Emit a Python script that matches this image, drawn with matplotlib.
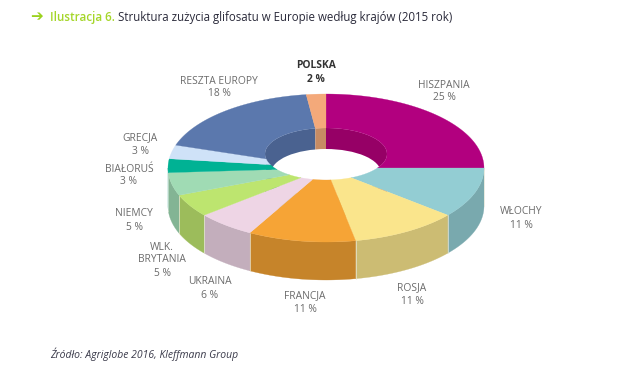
import numpy as np
import matplotlib
matplotlib.use('Agg')
import matplotlib.pyplot as plt
from matplotlib.patches import Polygon, Ellipse

plt.rcParams['font.family'] = ['Open Sans', 'DejaVu Sans']

# dane z ilustracji
countries = ['HISZPANIA', 'WŁOCHY', 'ROSJA', 'FRANCJA', 'UKRAINA', 'WLK.\nBRYTANIA',
             'NIEMCY', 'BIAŁORUŚ', 'GRECJA', 'RESZTA EUROPY', 'POLSKA']
shares = [25, 11, 11, 11, 6, 5, 5, 3, 3, 18, 2]
top_colors = ['#B2007F', '#93CDD3', '#FAE58C', '#F6A436', '#EED5E5', '#BDE56F',
              '#A0DBB4', '#00B294', '#CFE2F8', '#5B78AD', '#F4A97A']
side_colors = ['#960066', '#79A9AE', '#CCBC73', '#C6842A', '#C3AEBC', '#9CBC5B',
               '#83B494', '#009078', '#A9BBD0', '#4A6290', '#C68B63']
label_x = [444, 521, 412, 305, 210, 162, 134, 129, 140, 219, 316]
label_y = [85, 212, 288, 296, 282, 247, 214, 169, 138, 81, 66]

# geometria pierscienia w pikselach
cx, cy = 326, 168
rx, ry = 158, 74
depth = 38
hole_cy, hole_rx, hole_ry = 154, 61, 26
floor_cy, floor_rx, floor_ry = 173, 55, 24


def outer_point(t):
    return cx + rx * np.sin(t), cy - ry * np.cos(t)


def inner_point(t):
    # promien ze srodka tarczy do przeciecia z elipsa otworu
    dx, dy = rx * np.sin(t), -ry * np.cos(t)
    a = (dx / hole_rx) ** 2 + (dy / hole_ry) ** 2
    b = 2 * dy * (cy - hole_cy) / hole_ry ** 2
    c = ((cy - hole_cy) / hole_ry) ** 2 - 1
    s = (-b + np.sqrt(b * b - 4 * a * c)) / (2 * a)
    return cx + s * dx, cy + s * dy


fig = plt.figure(figsize=(6.22, 3.75), dpi=100, facecolor='white')
ax = fig.add_axes([0, 0, 1, 1])
ax.set_xlim(0, 622)
ax.set_ylim(375, 0)
ax.axis('off')

edges = np.radians(np.cumsum([0] + shares) * 3.6)

# sciana wewnetrzna otworu
for i in range(len(shares)):
    t = np.linspace(edges[i], edges[i + 1], 40)
    x, y = inner_point(t)
    pts = np.vstack([np.c_[x, y], np.c_[x[::-1], y[::-1] + depth]])
    ax.add_patch(Polygon(pts, fc=side_colors[i], ec='none', zorder=1))
ax.add_patch(Ellipse((cx, floor_cy), 2 * floor_rx, 2 * floor_ry, fc='white', ec='none', zorder=2))

# sciana zewnetrzna, tylko przod
for i in range(len(shares)):
    a = max(edges[i], np.pi / 2)
    b = min(edges[i + 1], 3 * np.pi / 2)
    if a >= b:
        continue
    t = np.linspace(a, b, 60)
    x, y = outer_point(t)
    pts = np.vstack([np.c_[x, y], np.c_[x[::-1], y[::-1] + depth]])
    ax.add_patch(Polygon(pts, fc=side_colors[i], ec=side_colors[i], lw=0.2, zorder=3))
    ax.plot([x[0], x[0]], [y[0], y[0] + depth], color='#E8E8D8', lw=0.5, zorder=3.5)

# gorna powierzchnia
for i in range(len(shares)):
    t = np.linspace(edges[i], edges[i + 1], 80)
    ox, oy = outer_point(t)
    ix, iy = inner_point(t)
    pts = np.vstack([np.c_[ox, oy], np.c_[ix[::-1], iy[::-1]]])
    ax.add_patch(Polygon(pts, fc=top_colors[i], ec=top_colors[i], lw=0.2, zorder=4))

# etykiety
for name, share, lx, ly in zip(countries, shares, label_x, label_y):
    bold = name == 'POLSKA'
    color = '#333333' if bold else '#6B6B6B'
    weight = 'bold' if bold else 'normal'
    rows = name.split('\n') + [f'{share} %']
    for k, row in enumerate(rows):
        ax.text(lx, ly + 13 * k, row, fontsize=7.4, color=color, fontweight=weight, ha='center', va='center')

# tytul i zrodlo
ax.text(30, 17, '\u2794', fontsize=11, color='#9BD21E', fontweight='bold', ha='left', va='center', family='DejaVu Sans')
ax.text(50, 18, 'Ilustracja 6.', fontsize=8.4, color='#A5D62A', fontweight='semibold', ha='left', va='center')
ax.text(118, 18, 'Struktura zużycia glifosatu w Europie według krajów (2015 rok)', fontsize=8.3,
        color='#2A2A3A', ha='left', va='center')
ax.text(50, 354, 'Źródło: Agriglobe 2016, Kleffmann Group', fontsize=7.45, color='#3A3A4A',
        style='italic', ha='left', va='center')

fig.savefig('out.png', dpi=100)
